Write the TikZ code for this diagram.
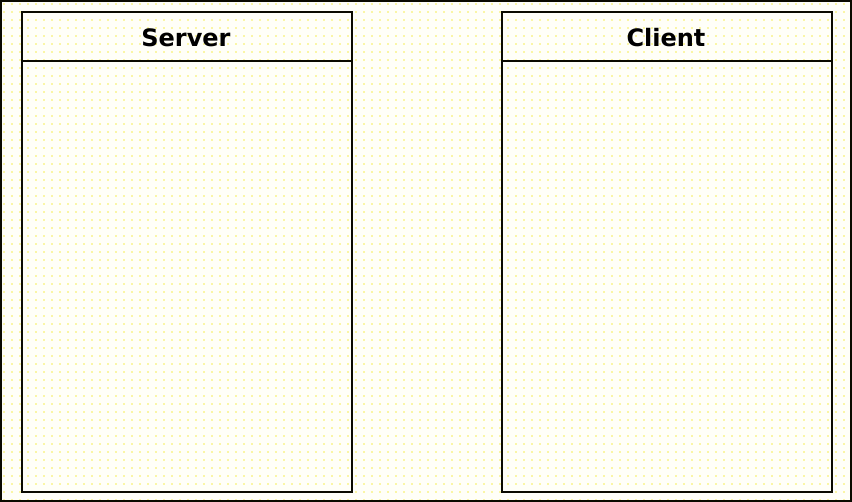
\documentclass[tikz,border=0pt]{standalone}
\usepackage{fontspec}
\setmainfont{DejaVu Sans}
\definecolor{dotc}{HTML}{FAF6A6}
\definecolor{linec}{HTML}{0A0A00}
\definecolor{bgc}{HTML}{FFFFF8}
\begin{document}
\begin{tikzpicture}[x=1pt,y=-1pt,
  box/.style={draw=linec,line width=2.2pt,rectangle,inner sep=0pt,minimum width=330pt,minimum height=480pt,anchor=north west},
  sep/.style={draw=linec,line width=2.2pt},
  title/.style={font=\bfseries\fontsize{24}{28}\selectfont,anchor=base,inner sep=0pt,text=black}]
\useasboundingbox (0,0) rectangle (852,502);
\fill[bgc] (0,0) rectangle (852,502);
\foreach \i in {0,...,106}{\foreach \j in {0,...,62}{\fill[dotc] ({4+8*\i-0.6},{4+8*\j-0.6}) rectangle ++(1.2,1.2);}}
\draw[draw=linec,line width=2.2pt] (1,1) rectangle (851,501);
\node[box] (server) at (21,11) {};
\node[box] (client) at (501,11) {};
\draw[sep] ([yshift=-50pt]server.north west) -- ([yshift=-50pt]server.north east);
\draw[sep] ([yshift=-50pt]client.north west) -- ([yshift=-50pt]client.north east);
\node[title] (servert) at (186,47) {Server};
\node[title] (clientt) at (666,47) {Client};
\end{tikzpicture}
\end{document}
